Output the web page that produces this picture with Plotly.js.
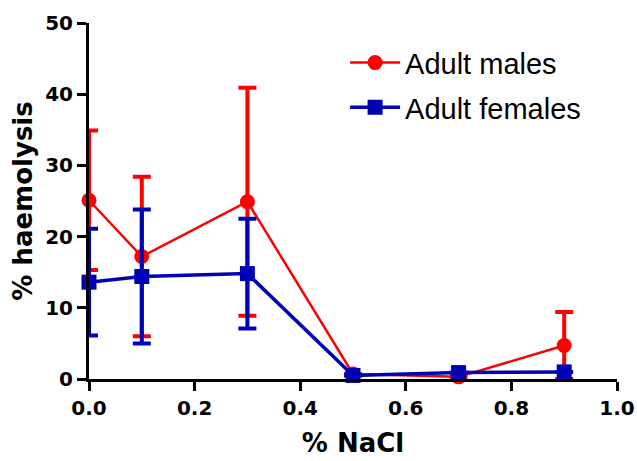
<!DOCTYPE html>
<html><head><meta charset="utf-8">
<script src="https://cdn.plot.ly/plotly-3.0.1.min.js"></script>
<style>html,body{margin:0;padding:0;background:#fff}#chart{width:637px;height:461px}</style>
</head><body><div id="chart"></div>
<script>
const nacl = [0.0, 0.1, 0.3, 0.5, 0.7, 0.9];
const malesMean = [25.1, 17.2, 24.9, 0.7, 0.3, 4.7];
const malesErr = [9.8, 11.2, 16.0, 0, 0, 4.7];
const femalesMean = [13.6, 14.4, 14.8, 0.5, 0.9, 1.0];
const femalesErr = [7.5, 9.4, 7.7, 0, 0, 0];
const xTicks = [0, 0.2, 0.4, 0.6, 0.8, 1.0];
const xTickLabels = ['0.0', '0.2', '0.4', '0.6', '0.8', '1.0'];
const yTicks = [0, 10, 20, 30, 40, 50];

const tickFont = {size: 20, family: 'DejaVu Sans', weight: 'bold', color: '#000'};
const titleFont = {size: 26, family: 'DejaVu Sans', weight: 'bold', color: '#000'};

const traces = [
  {x: nacl, y: malesMean, name: 'Adult males', legendgroup: 'm', type: 'scatter', mode: 'lines+markers',
   line: {color: '#ff0000', width: 2.5}, marker: {symbol: 'circle', size: 15, color: '#ff0000'},
   error_y: {type: 'data', array: malesErr, visible: true, thickness: 4, width: 9, color: '#ff0000'},
   cliponaxis: false},
  {x: nacl, y: femalesMean, name: 'Adult females', legendgroup: 'f', type: 'scatter', mode: 'lines+markers',
   line: {color: '#0000b4', width: 3.5}, marker: {symbol: 'square', size: 15, color: '#0000b4'},
   error_y: {type: 'data', array: femalesErr, visible: true, thickness: 4, width: 9, color: '#0000b4'},
   cliponaxis: false}
];
const layout = {
  width: 637, height: 461,
  margin: {l: 89, r: 20, t: 23, b: 82},
  paper_bgcolor: '#fff', plot_bgcolor: '#fff',
  font: {family: 'Liberation Sans, Arial, sans-serif', color: '#000'},
  xaxis: {range: [0, 1], tickvals: xTicks, ticktext: xTickLabels, showgrid: false, zeroline: false,
    showline: true, linecolor: '#000', linewidth: 3, ticks: 'outside', ticklen: 9, tickwidth: 3, tickcolor: '#000',
    tickfont: tickFont,
    title: {text: '% NaCl', font: titleFont, standoff: 15}},
  yaxis: {range: [0, 50], tickvals: yTicks, showgrid: false, zeroline: false,
    showline: true, linecolor: '#000', linewidth: 3, ticks: 'outside', ticklen: 9, tickwidth: 3, tickcolor: '#000',
    tickfont: tickFont,
    title: {text: '% haemolysis', font: titleFont, standoff: 6}},
  showlegend: true,
  legend: {x: 0.485, y: 0.96, xanchor: 'left', yanchor: 'top', bgcolor: 'rgba(0,0,0,0)',
    traceorder: 'grouped', tracegroupgap: 4,
    font: {size: 29, family: 'Liberation Sans, Arial', color: '#000'}, itemwidth: 50}
};
Plotly.newPlot('chart', traces, layout, {displayModeBar: false, staticPlot: true});
</script></body></html>
